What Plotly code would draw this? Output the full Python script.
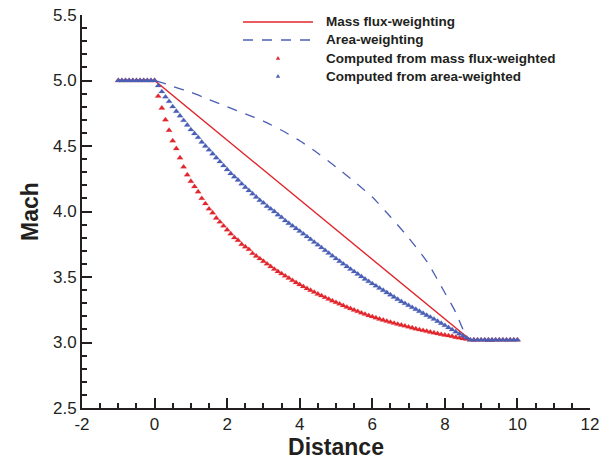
import numpy as np
import plotly.graph_objects as go

# Stations along the duct (inlet plenum -1..0, nozzle 0..8.7, outlet 8.7..10)
x_stations = np.round(np.arange(-1.0, 10.0001, 0.1), 1)

inlet_mach = [5.0] * 10
outlet_mach = [3.02] * 13

# Mach computed from mass flux-weighted quantities, x = 0.0 .. 8.7
mach_mf_nozzle = [
    5.00, 4.88, 4.79, 4.70, 4.62, 4.54, 4.48, 4.41, 4.34, 4.28,
    4.23, 4.19, 4.15, 4.10, 4.06, 4.02, 3.99, 3.95, 3.92, 3.89,
    3.86, 3.83, 3.80, 3.78, 3.75, 3.73, 3.71, 3.68, 3.66, 3.64,
    3.62, 3.60, 3.58, 3.56, 3.542, 3.525, 3.508, 3.491, 3.474, 3.458,
    3.442, 3.427, 3.412, 3.398, 3.384, 3.370, 3.357, 3.344, 3.331, 3.318,
    3.306, 3.294, 3.282, 3.270, 3.259, 3.248, 3.237, 3.226, 3.216, 3.206,
    3.197, 3.188, 3.179, 3.171, 3.163, 3.155, 3.147, 3.140, 3.133, 3.126,
    3.119, 3.112, 3.105, 3.098, 3.092, 3.086, 3.080, 3.074, 3.068, 3.062,
    3.057, 3.052, 3.047, 3.040, 3.035, 3.030, 3.025, 3.02,
]

# Mach computed from area-weighted quantities, x = 0.0 .. 8.7
mach_aw_nozzle = [
    5.00, 4.96, 4.915, 4.875, 4.84, 4.80, 4.765, 4.73, 4.695, 4.66,
    4.625, 4.595, 4.565, 4.53, 4.50, 4.47, 4.44, 4.41, 4.38, 4.35,
    4.32, 4.29, 4.265, 4.24, 4.21, 4.185, 4.16, 4.135, 4.11, 4.085,
    4.065, 4.04, 4.02, 4.00, 3.975, 3.955, 3.93, 3.91, 3.89, 3.87,
    3.85, 3.829, 3.808, 3.787, 3.766, 3.745, 3.724, 3.703, 3.682, 3.661,
    3.640, 3.620, 3.600, 3.580, 3.560, 3.541, 3.522, 3.503, 3.484, 3.466,
    3.449, 3.432, 3.415, 3.398, 3.381, 3.364, 3.347, 3.330, 3.313, 3.298,
    3.283, 3.268, 3.253, 3.238, 3.223, 3.208, 3.193, 3.178, 3.162, 3.146,
    3.130, 3.114, 3.098, 3.082, 3.066, 3.050, 3.035, 3.02,
]

mach_mf = inlet_mach + mach_mf_nozzle + outlet_mach
mach_aw = inlet_mach + mach_aw_nozzle + outlet_mach

# Mass flux-weighted Mach profile
mfw_x = [-1.0, 0.0, 8.7, 10.0]
mfw_y = [5.0, 5.0, 3.02, 3.02]

# Area-weighted Mach profile
aw_x = [-1.0, 0.0, 0.5, 1.0, 1.5, 2.0, 2.5, 3.0, 3.5, 4.0, 4.5, 5.0, 5.5,
        6.0, 6.5, 7.0, 7.5, 8.0, 8.3, 8.5, 8.7, 10.0]
aw_y = [5.0, 5.0, 4.955, 4.91, 4.855, 4.80, 4.745, 4.69, 4.62, 4.54, 4.445,
        4.34, 4.23, 4.11, 3.96, 3.80, 3.62, 3.38, 3.23, 3.10, 3.02, 3.02]

x_tickvals = [-2, 0, 2, 4, 6, 8, 10, 12]
x_ticktext = ["-2", "0", "2", "4", "6", "8", "10", "12"]

legend_labels = [
    "Mass flux-weighting",
    "Area-weighting",
    "Computed from mass flux-weighted",
    "Computed from area-weighted",
]

RED = "#e1262d"
BLUE = "#4a5fb5"
AXIS = "#231f20"
FONT = "Liberation Sans, Arial, sans-serif"

fig = go.Figure()

fig.add_trace(go.Scatter(
    x=mfw_x, y=mfw_y, mode="lines",
    line=dict(color=RED, width=1.4), name=legend_labels[0], showlegend=False,
))
fig.add_trace(go.Scatter(
    x=aw_x, y=aw_y, mode="lines", line_shape="spline",
    line=dict(color=BLUE, width=1.3, dash="10px,9px", smoothing=0.6),
    name=legend_labels[1], showlegend=False,
))
fig.add_trace(go.Scatter(
    x=x_stations, y=mach_mf, mode="markers",
    marker=dict(symbol="triangle-up", size=5.5, color=RED,
                line=dict(width=0.6, color="rgba(225,38,45,0.35)")),
    name=legend_labels[2], showlegend=False,
))
fig.add_trace(go.Scatter(
    x=x_stations, y=mach_aw, mode="markers",
    marker=dict(symbol="triangle-up", size=5.5, color=BLUE,
                line=dict(width=0.6, color="rgba(74,95,181,0.35)")),
    name=legend_labels[3], showlegend=False,
))

# Hand-built legend box in paper coordinates
L_MARGIN, R_MARGIN, T_MARGIN, B_MARGIN = 82, 9, 15, 58
W, H = 599, 466
pw, ph = W - L_MARGIN - R_MARGIN, H - T_MARGIN - B_MARGIN


def px_x(p):
    return (p - L_MARGIN) / pw


def px_y(p):
    return (H - B_MARGIN - p) / ph


row_y = [22, 40, 58, 76]
shapes = [
    dict(type="line", xref="paper", yref="paper",
         x0=px_x(243), x1=px_x(313), y0=px_y(row_y[0]), y1=px_y(row_y[0]),
         line=dict(color=RED, width=1.4)),
    dict(type="line", xref="paper", yref="paper",
         x0=px_x(243), x1=px_x(313), y0=px_y(row_y[1]), y1=px_y(row_y[1]),
         line=dict(color=BLUE, width=1.3, dash="10px,9px")),
]
for ry, col in ((row_y[2], RED), (row_y[3], BLUE)):
    cx, cy = 278, ry
    path = "M {} {} L {} {} L {} {} Z".format(
        px_x(cx - 2.2), px_y(cy + 1.8), px_x(cx + 2.2), px_y(cy + 1.8),
        px_x(cx), px_y(cy - 2.0))
    shapes.append(dict(type="path", xref="paper", yref="paper", path=path,
                       fillcolor=col, line=dict(width=0)))

annotations = [
    dict(text="<b>{}</b>".format(lbl), xref="paper", yref="paper",
         x=px_x(324), y=px_y(ry), xanchor="left", yanchor="middle",
         showarrow=False, font=dict(family=FONT, size=13.5, color=AXIS))
    for lbl, ry in zip(legend_labels, row_y)
]

fig.update_layout(
    width=W, height=H,
    margin=dict(l=L_MARGIN, r=R_MARGIN, t=T_MARGIN, b=B_MARGIN,
                autoexpand=False),
    paper_bgcolor="white", plot_bgcolor="white",
    font=dict(family=FONT, color=AXIS),
    showlegend=False,
    shapes=shapes,
    annotations=annotations,
    xaxis=dict(
        range=[-2, 12], tickmode="array", tickvals=x_tickvals,
        ticktext=x_ticktext, ticklabeloverflow="allow", automargin=False,
        ticks="inside", ticklen=10, tickwidth=2, tickcolor=AXIS,
        minor=dict(ticks="inside", ticklen=5, tickwidth=1.5, dtick=0.5,
                   tick0=-2, tickcolor=AXIS, showgrid=False),
        showline=True, linewidth=2, linecolor=AXIS, mirror=False,
        showgrid=False, zeroline=False,
        tickfont=dict(family=FONT, size=17, color=AXIS),
        title=dict(text="<b>Distance</b>", standoff=4,
                   font=dict(family=FONT, size=23, color=AXIS)),
    ),
    yaxis=dict(
        range=[2.5, 5.5], tickmode="linear", tick0=2.5, dtick=0.5,
        tickformat=".1f", ticklabeloverflow="allow", automargin=False,
        ticks="inside", ticklen=10, tickwidth=2, tickcolor=AXIS,
        minor=dict(ticks="inside", ticklen=5, tickwidth=1.5, dtick=0.1,
                   tickcolor=AXIS, showgrid=False),
        showline=True, linewidth=2, linecolor=AXIS, mirror=False,
        showgrid=False, zeroline=False,
        tickfont=dict(family=FONT, size=17, color=AXIS),
        title=dict(text="<b>Mach</b>", standoff=8,
                   font=dict(family=FONT, size=23, color=AXIS)),
    ),
)

fig.write_html("out.html")
